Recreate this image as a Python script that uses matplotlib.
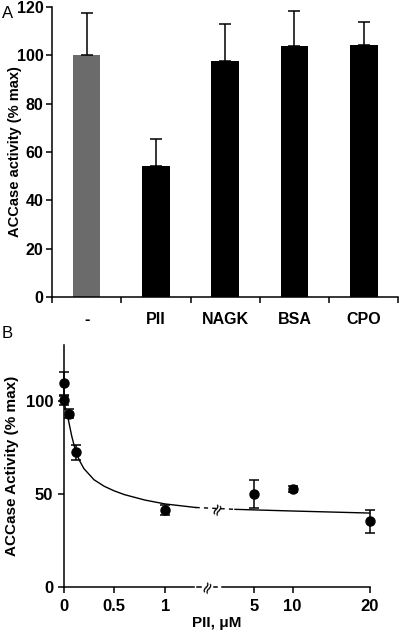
import matplotlib
matplotlib.use("Agg")
import matplotlib.pyplot as plt
import matplotlib.transforms as mtransforms
import numpy as np

plt.rcParams['font.family'] = ['Liberation Sans', 'DejaVu Sans']
plt.rcParams['font.weight'] = 'bold'
plt.rcParams['axes.labelweight'] = 'bold'

# panel A data
groups = ['-', 'PII', 'NAGK', 'BSA', 'CPO']
activity = [100, 54, 97.6, 104, 104.4]
activity_err = [17.4, 11.2, 15.4, 14.3, 9.2]
bar_colors = ['#6b6b6b', 'black', 'black', 'black', 'black']

# panel B data
pii_conc = [0, 0, 0.05, 0.12, 1, 5, 10, 20]
pii_act = [109.4, 100.2, 93, 72.3, 41.4, 49.9, 52.6, 35.1]
pii_err = [6.3, 2.5, 2.5, 4, 2.7, 7.7, 1.5, 6.3]

# fitted curve
fit_x_left = [0, 0.02, 0.05, 0.08, 0.12, 0.16, 0.2, 0.3, 0.4, 0.5, 0.6, 0.8, 1.0, 1.3]
fit_y_left = [100, 95.5, 89, 81, 72.5, 67.5, 63.5, 57.5, 54, 51.5, 49.5, 46.6, 44.5, 42.6]
fit_x_gap = [1.3, 2.5]
fit_y_gap = [42.6, 41.6]
fit_x_right = [2.5, 5, 10, 20]
fit_y_right = [41.6, 41.3, 40.7, 39.6]

xticks_b = [0, 0.5, 1, 5, 10, 20]
xticklabels_b = ['0', '0.5', '1', '5', '10', '20']

FS = 10.5   # axis titles
TS = 11.5   # tick labels

fig = plt.figure(figsize=(4, 6.35), dpi=100)

# ---- panel A ----
axA = fig.add_axes([0.13, 0.5323, 0.866, 0.4567])
axA.bar(range(len(groups)), activity, width=0.4, color=bar_colors,
        yerr=[np.zeros(len(groups)), activity_err], capsize=4,
        error_kw=dict(elinewidth=1.1, capthick=1.1, ecolor='black'))
axA.set_xlim(-0.5, 4.5)
axA.set_ylim(0, 120)
axA.set_yticks(range(0, 121, 20))
axA.set_xticks(np.arange(-0.5, 4.6, 1))
axA.set_xticklabels([])
axA.set_xticks(range(len(groups)), minor=True)
axA.set_xticklabels(groups, minor=True)
axA.tick_params(axis='x', which='minor', length=0, pad=11, labelsize=TS)
axA.tick_params(axis='x', which='major', length=4, width=1.1, direction='out')
axA.tick_params(axis='y', length=4, width=1.1, labelsize=TS, pad=2)
for lab in axA.get_yticklabels() + axA.get_xticklabels(minor=True):
    lab.set_fontweight('bold')
for s in ['top', 'right']:
    axA.spines[s].set_visible(False)
for s in ['left', 'bottom']:
    axA.spines[s].set_linewidth(1.1)
axA.set_ylabel('ACCase activity (% max)', fontsize=FS, fontweight='bold')
axA.yaxis.set_label_coords(-0.088, 0.5)
fig.text(0.005, 0.972, 'A', fontsize=12, fontweight='normal')

# ---- panel B: broken x axis via a piecewise scale ----
K = 0.0758
C = 1.877
UB = C - 2.5 * K


def fwd(x):
    x = np.asarray(x, float)
    mid = 1.3 + (x - 1.3) * (UB - 1.3) / 1.2
    right = C + (x - 5) * K
    return np.where(x <= 1.3, x, np.where(x < 2.5, mid, right))


def inv(u):
    u = np.asarray(u, float)
    mid = 1.3 + (u - 1.3) * 1.2 / (UB - 1.3)
    right = 5 + (u - C) / K
    return np.where(u <= 1.3, u, np.where(u < UB, mid, right))


axB = fig.add_axes([0.159, 0.0761, 0.765, 0.3806])
axB.set_xscale('function', functions=(fwd, inv))
axB.set_xlim(0, 20)
axB.set_ylim(0, 130)

axB.plot(fit_x_left, fit_y_left, color='black', lw=1.0, clip_on=False)
axB.plot(fit_x_gap, fit_y_gap, color='black', lw=1.0, ls=(0, (3, 3)), clip_on=False)
axB.plot(fit_x_right, fit_y_right, color='black', lw=1.0, clip_on=False)
axB.errorbar(pii_conc, pii_act, yerr=pii_err, fmt='o', color='black', ms=6.5,
             capsize=3.5, elinewidth=1.1, capthick=1.1, clip_on=False)

axB.set_xticks(xticks_b)
axB.set_xticklabels(xticklabels_b)
axB.minorticks_off()
axB.set_yticks([0, 50, 100])
axB.tick_params(axis='both', length=4, width=1.1, labelsize=TS + 0.5)
axB.tick_params(axis='x', pad=5)
for lab in axB.get_yticklabels() + axB.get_xticklabels():
    lab.set_fontweight('bold')
for s in ['top', 'right', 'bottom']:
    axB.spines[s].set_visible(False)
axB.spines['left'].set_linewidth(1.1)

# broken bottom axis line
ut = 3.014
axB.plot([0, 1.28 / ut], [0, 0], color='black', lw=1.1,
         transform=axB.transAxes, clip_on=False)
axB.plot([1.31 / ut, 1.35 / ut], [0, 0], color='black', lw=1.1,
         transform=axB.transAxes, clip_on=False)
axB.plot([1.48 / ut, 1.51 / ut], [0, 0], color='black', lw=1.1,
         transform=axB.transAxes, clip_on=False)
axB.plot([1.56 / ut, 1.0], [0, 0], color='black', lw=1.1,
         transform=axB.transAxes, clip_on=False)
axB.text(1.414 / ut, 0, '≈', transform=axB.transAxes, ha='center', va='center',
         fontsize=12, rotation=65, fontweight='normal', family='DejaVu Sans')
blend = mtransforms.blended_transform_factory(axB.transAxes, axB.transData)
axB.text(1.509 / ut, 41.8, '≈', transform=blend, ha='center', va='center',
         fontsize=12, rotation=65, fontweight='normal', family='DejaVu Sans')

axB.set_xlabel('PII, μM', fontsize=FS + 0.5, fontweight='bold', labelpad=1)
axB.set_ylabel('ACCase Activity (% max)', fontsize=FS + 0.5, fontweight='bold')
axB.yaxis.set_label_coords(-0.145, 0.5)
fig.text(0.005, 0.467, 'B', fontsize=12, fontweight='normal')

fig.savefig('out.png', dpi=100)
